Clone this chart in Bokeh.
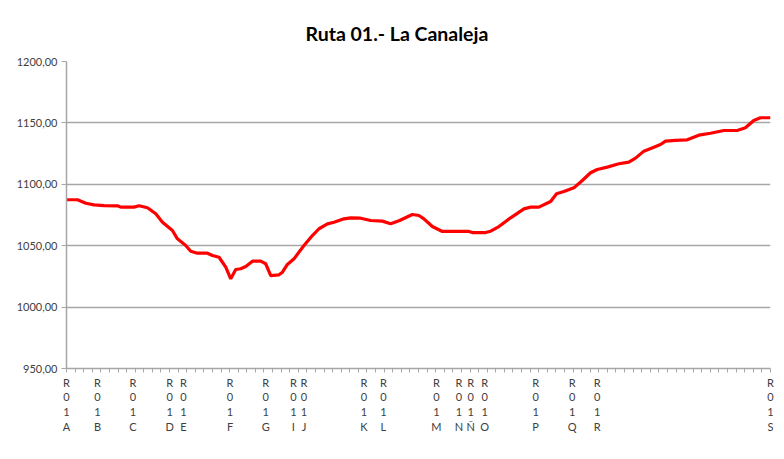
from bokeh.plotting import figure
from bokeh.models import FixedTicker, Range1d
from bokeh.embed import file_html
from bokeh.resources import INLINE

# distance along the route (in category-tick units) and elevation (m)
dist = [0.0, 1.28, 2.25, 3.21, 4.38, 5.94, 6.32, 7.87, 8.45, 9.43, 10.40, 11.18,
        12.34, 12.92, 13.89, 14.47, 15.25, 16.42, 17.0, 17.77, 18.55, 19.13, 19.71,
        20.29, 20.88, 21.66, 22.62, 23.2, 23.79, 24.75, 25.15, 25.73, 26.5, 27.66,
        28.64, 29.41, 30.39, 31.16, 32.32, 33.1, 34.26, 35.43, 36.79, 37.76, 38.8,
        40.28, 41.05, 41.63, 42.61, 43.78, 45.52, 46.87, 47.27, 48.82, 49.4, 50.37,
        51.73, 53.28, 54.06, 55.02, 56.39, 57.08, 57.93, 59.1, 60.08, 61.04, 61.82,
        62.99, 64.34, 65.5, 66.28, 67.25, 68.41, 69.19, 69.77, 70.94, 72.3, 73.65,
        75.01, 76.56, 78.12, 79.08, 80.05, 80.83, 82.0]
elev = [1087.4, 1087.4, 1084.6, 1083.3, 1082.7, 1082.5, 1081.4, 1081.4, 1082.5, 1080.9,
        1076.0, 1069.1, 1062.4, 1055.6, 1050.2, 1045.5, 1043.9, 1043.9, 1042.0, 1040.6,
        1032.5, 1023.0, 1030.6, 1031.2, 1033.1, 1037.4, 1037.4, 1035.3, 1025.7, 1026.3,
        1028.4, 1034.7, 1039.3, 1050.2, 1058.3, 1063.8, 1067.8, 1069.1, 1071.9, 1072.7,
        1072.4, 1070.5, 1070.0, 1067.8, 1070.5, 1075.4, 1074.6, 1071.9, 1065.6, 1061.6,
        1061.6, 1061.6, 1060.7, 1060.7, 1061.8, 1065.6, 1072.7, 1080.0, 1081.4, 1081.4,
        1086.0, 1092.3, 1094.1, 1097.1, 1103.1, 1109.4, 1112.1, 1114.0, 1116.7, 1118.0,
        1121.3, 1127.0, 1130.2, 1132.4, 1135.1, 1135.7, 1136.2, 1140.0, 1141.6, 1143.8,
        1143.8, 1146.0, 1152.0, 1154.2, 1154.2]

# waypoint labels and their positions along the route
wp_names = ["A", "B", "C", "D", "E", "F", "G", "I", "J", "K", "L", "M", "N", "Ñ", "O",
            "P", "Q", "R", "S"]
wp_pos = [0.0, 3.61, 7.75, 12.03, 13.62, 19.05, 23.2, 26.43, 27.66, 34.65, 36.91,
          43.08, 45.71, 47.07, 48.7, 54.64, 58.91, 61.82, 82.0]

y_ticks = [950, 1000, 1050, 1100, 1150, 1200]
x_minor = list(range(0, 83))

FONT = "Lato"

p = figure(width=780, height=455, output_backend="svg", toolbar_location=None,
           x_range=Range1d(0, 82), y_range=Range1d(950, 1200),
           min_border_left=66, min_border_right=10, min_border_top=61,
           min_border_bottom=87)
p.outline_line_color = None
p.background_fill_color = "white"
p.border_fill_color = "white"

p.title.text = "Ruta 01.- La Canaleja"
p.title.text_font = FONT
p.title.text_font_size = "19.5px"
p.title.text_font_style = "bold"
p.title.text_color = "#000000"
p.title.align = "left"
p.title.offset = 239
p.title.standoff = 34

p.line(dist, elev, line_color="#ff0000", line_width=3.2)

# y axis
p.yaxis.ticker = FixedTicker(ticks=y_ticks)
p.yaxis.major_label_overrides = {t: f"{t},00" for t in y_ticks}
p.yaxis.major_label_text_font = FONT
p.yaxis.major_label_text_font_size = "11px"
p.yaxis.major_label_text_color = "#404040"
p.yaxis.axis_line_color = "#a6a6a6"
p.yaxis.axis_line_width = 1.5
p.yaxis.major_tick_line_color = "#a6a6a6"
p.yaxis.major_tick_out = 5
p.yaxis.major_tick_in = 0
p.yaxis.minor_tick_line_color = None
p.yaxis.major_label_standoff = 4

# x axis
p.xaxis.ticker = FixedTicker(ticks=wp_pos, minor_ticks=x_minor)
p.xaxis.major_label_overrides = {pos: "R\n0\n1\n" + n for pos, n in zip(wp_pos, wp_names)}
p.xaxis.major_label_text_font = FONT
p.xaxis.major_label_text_font_size = "11px"
p.xaxis.major_label_text_color = "#404040"
p.xaxis.major_label_text_line_height = 1.15
p.xaxis.axis_line_color = "#a6a6a6"
p.xaxis.axis_line_width = 1.5
p.xaxis.major_tick_line_color = None
p.xaxis.major_tick_out = 0
p.xaxis.major_tick_in = 0
p.xaxis.minor_tick_line_color = "#a6a6a6"
p.xaxis.minor_tick_out = 4
p.xaxis.minor_tick_in = 0
p.xaxis.major_label_standoff = 3

p.xgrid.grid_line_color = None
p.ygrid.grid_line_color = "#a6a6a6"
p.ygrid.grid_line_width = 1.5

open("out.html", "w").write(file_html(p, INLINE))
